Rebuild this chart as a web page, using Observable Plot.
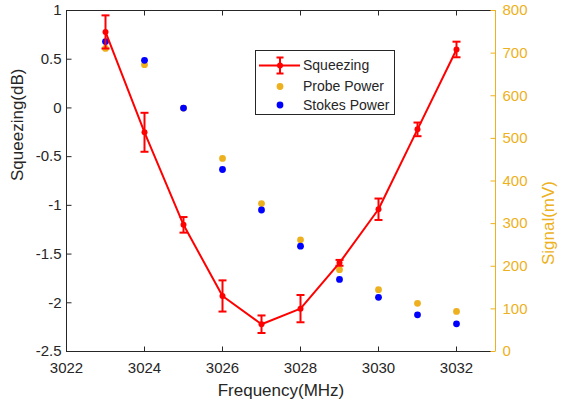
<!DOCTYPE html>
<html>
<head>
<meta charset="utf-8">
<script src="https://cdn.jsdelivr.net/npm/d3@7"></script>
<script src="https://cdn.jsdelivr.net/npm/@observablehq/plot@0.6"></script>
<style>
  html, body { margin: 0; padding: 0; background: #fff; }
  #wrap { position: relative; width: 569px; height: 406px; font-family: "Liberation Sans", Arial, sans-serif; }
  #legend { position: absolute; left: 255px; top: 50px; }
</style>
</head>
<body>
<div id="wrap"></div>
<script>
// ---- data ----
const freq = [3023, 3024, 3025, 3026, 3027, 3028, 3029, 3030, 3031, 3032];
const squeezing = [0.78, -0.25, -1.20, -1.93, -2.22, -2.06, -1.59, -1.04, -0.22, 0.60];
const squeezingErr = [0.17, 0.20, 0.08, 0.16, 0.09, 0.14, 0.03, 0.11, 0.07, 0.08];
const probePower = [711, 673, 571, 453, 347, 262, 192, 145, 113, 94];
const stokesPower = [727, 683, 571, 427, 332, 247, 169, 127, 86, 65];

const xTicks = [3022, 3024, 3026, 3028, 3030, 3032];
const leftTicks = [1, 0.5, 0, -0.5, -1, -1.5, -2, -2.5];
const rightTicks = [0, 100, 200, 300, 400, 500, 600, 700, 800];

const xDomain = [3022, 3033];
const leftDomain = [-2.5, 1];
const rightDomain = [0, 800];

const series = ["Squeezing", "Probe Power", "Stokes Power"];

// ---- styles ----
const RED = "#ff0000", ORANGE = "#EDB120", BLUE = "#0000ff", AXIS = "#262626";
const FONT = "Liberation Sans, Arial, sans-serif";
const W = 569, H = 406, ML = 66, MR = 74, MT = 10, MB = 55;

// map right-axis (mV) values into left-axis units
const toLeft = v => leftDomain[0] + (v - rightDomain[0]) / (rightDomain[1] - rightDomain[0]) * (leftDomain[1] - leftDomain[0]);
const fromLeft = y => rightDomain[0] + (y - leftDomain[0]) / (leftDomain[1] - leftDomain[0]) * (rightDomain[1] - rightDomain[0]);

const sq = freq.map((f, i) => ({f, y: squeezing[i], lo: squeezing[i] - squeezingErr[i], hi: squeezing[i] + squeezingErr[i]}));
const pr = freq.map((f, i) => ({f, y: toLeft(probePower[i])}));
const st = freq.map((f, i) => ({f, y: toLeft(stokesPower[i])}));

// custom symbols: length = r
const len = size => Math.sqrt(size / Math.PI);
const capSymbol = {draw(ctx, size) { const w = len(size); ctx.moveTo(-w, 0); ctx.lineTo(w, 0); }};
const tickUp = {draw(ctx, size) { ctx.moveTo(0, 0); ctx.lineTo(0, -len(size)); }};
const tickDown = {draw(ctx, size) { ctx.moveTo(0, 0); ctx.lineTo(0, len(size)); }};
const tickRight = {draw(ctx, size) { ctx.moveTo(0, 0); ctx.lineTo(len(size), 0); }};
const tickLeft = {draw(ctx, size) { ctx.moveTo(0, 0); ctx.lineTo(-len(size), 0); }};

const chart = Plot.plot({
  width: W,
  height: H,
  marginLeft: ML,
  marginRight: MR,
  marginTop: MT,
  marginBottom: MB,
  style: {fontFamily: FONT, fontSize: "15px", color: AXIS, background: "white"},
  x: {domain: xDomain},
  y: {domain: leftDomain},
  marks: [
    // frame
    Plot.ruleY([leftDomain[1]], {stroke: AXIS, strokeWidth: 1}),
    Plot.ruleY([leftDomain[0]], {stroke: AXIS, strokeWidth: 1}),
    Plot.ruleX([xDomain[0]], {stroke: AXIS, strokeWidth: 1}),
    Plot.ruleX([xDomain[1]], {stroke: ORANGE, strokeWidth: 1}),
    // inward ticks
    Plot.dot(xTicks, {x: d => d, y: leftDomain[0], symbol: tickUp, r: 5, stroke: AXIS, strokeWidth: 1, fill: "none"}),
    Plot.dot(xTicks, {x: d => d, y: leftDomain[1], symbol: tickDown, r: 5, stroke: AXIS, strokeWidth: 1, fill: "none"}),
    Plot.dot(leftTicks, {x: xDomain[0], y: d => d, symbol: tickRight, r: 5, stroke: AXIS, strokeWidth: 1, fill: "none"}),
    Plot.dot(rightTicks.map(toLeft), {x: xDomain[1], y: d => d, symbol: tickLeft, r: 5, stroke: ORANGE, strokeWidth: 1, fill: "none"}),
    // axis labels
    Plot.axisX({anchor: "bottom", ticks: xTicks, tickSize: 0, tickPadding: 11, tickFormat: d => String(d), label: null, fill: AXIS, fontSize: 15}),
    Plot.axisY({anchor: "left", ticks: leftTicks, tickSize: 0, tickPadding: 5, tickFormat: d => String(d), label: null, fill: AXIS, fontSize: 15}),
    Plot.axisY({anchor: "right", ticks: rightTicks.map(toLeft), tickSize: 0, tickPadding: 7, tickFormat: d => String(Math.round(fromLeft(d))), label: null, fill: ORANGE, fontSize: 15}),
    // axis titles
    Plot.text(["Squeezing(dB)"], {frameAnchor: "left", dx: -49, rotate: -90, lineAnchor: "middle", fontSize: 17, fill: AXIS}),
    Plot.text(["Frequency(MHz)"], {frameAnchor: "bottom", dy: 39, lineAnchor: "middle", fontSize: 17, fill: AXIS}),
    Plot.text(["Signal(mV)"], {frameAnchor: "right", dx: 53, rotate: -90, lineAnchor: "middle", fontSize: 17, fill: ORANGE}),
    // probe & stokes
    Plot.dot(pr, {x: "f", y: "y", r: 3.4, fill: ORANGE, stroke: "none"}),
    Plot.dot(st, {x: "f", y: "y", r: 3.4, fill: BLUE, stroke: "none"}),
    // squeezing
    Plot.line(sq, {x: "f", y: "y", stroke: RED, strokeWidth: 2}),
    Plot.ruleX(sq, {x: "f", y1: "lo", y2: "hi", stroke: RED, strokeWidth: 2}),
    Plot.dot(sq, {x: "f", y: "lo", symbol: capSymbol, r: 4, stroke: RED, strokeWidth: 2, fill: "none"}),
    Plot.dot(sq, {x: "f", y: "hi", symbol: capSymbol, r: 4, stroke: RED, strokeWidth: 2, fill: "none"}),
    Plot.dot(sq, {x: "f", y: "y", r: 3, fill: RED, stroke: "none"})
  ]
});

const wrap = document.getElementById("wrap");
wrap.appendChild(chart);

// legend (overlay in the axes area)
const legend = document.createElement("div");
legend.id = "legend";
const lw = 140, lh = 65;
const rowsY = [15.5, 36.5, 55];
const svg = d3.create("svg").attr("width", lw).attr("height", lh).style("display", "block");
svg.append("rect").attr("x", 0.5).attr("y", 0.5).attr("width", lw - 1).attr("height", lh - 1).attr("fill", "white").attr("stroke", AXIS).attr("stroke-width", 1);
// squeezing sample
svg.append("line").attr("x1", 4).attr("x2", 45).attr("y1", rowsY[0]).attr("y2", rowsY[0]).attr("stroke", RED).attr("stroke-width", 2);
svg.append("line").attr("x1", 25).attr("x2", 25).attr("y1", rowsY[0] - 8).attr("y2", rowsY[0] + 8).attr("stroke", RED).attr("stroke-width", 2);
svg.append("line").attr("x1", 21.5).attr("x2", 28.5).attr("y1", rowsY[0] - 8).attr("y2", rowsY[0] - 8).attr("stroke", RED).attr("stroke-width", 2);
svg.append("line").attr("x1", 21.5).attr("x2", 28.5).attr("y1", rowsY[0] + 8).attr("y2", rowsY[0] + 8).attr("stroke", RED).attr("stroke-width", 2);
svg.append("circle").attr("cx", 25).attr("cy", rowsY[0]).attr("r", 3).attr("fill", RED);
svg.append("circle").attr("cx", 25).attr("cy", rowsY[1]).attr("r", 3.4).attr("fill", ORANGE);
svg.append("circle").attr("cx", 25).attr("cy", rowsY[2]).attr("r", 3.4).attr("fill", BLUE);
series.forEach((s, i) => {
  svg.append("text").attr("x", 48).attr("y", rowsY[i]).attr("dy", "0.35em")
    .attr("font-family", FONT).attr("font-size", 14).attr("fill", AXIS).text(s);
});
legend.appendChild(svg.node());
wrap.appendChild(legend);
</script>
</body>
</html>
